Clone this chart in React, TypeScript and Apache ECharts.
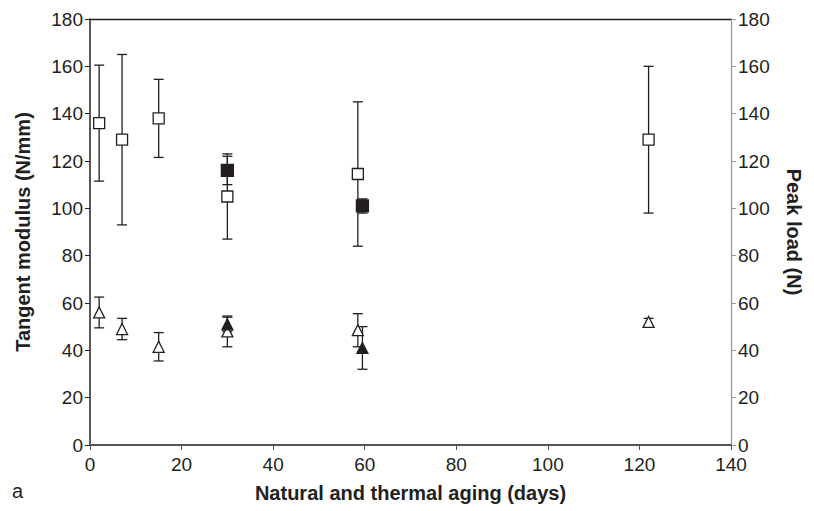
import React, { useEffect, useRef } from "react";
import * as echarts from "echarts";

// Tangent modulus (open squares) and filled squares
const openSquareDays = [2, 7, 15, 30, 58.5, 122];
const openSquareVal = [136, 129, 138, 105, 114.5, 129];
const openSquareErr = [24.5, 36, 16.5, 18, 30.5, 31];

const filledSquareDays = [30, 59.5];
const filledSquareVal = [116, 101];
const filledSquareErr = [6, 3];

// Peak load (triangles)
const openTriDays = [2, 7, 15, 30, 58.5, 122];
const openTriVal = [56, 49, 41.5, 48, 48.5, 52];
const openTriErr = [6.5, 4.5, 6, 6.5, 7, 1.5];

const filledTriDays = [30, 59.5];
const filledTriVal = [51, 41];
const filledTriErr = [3, 9];

const FONT = "'Liberation Sans', Arial, Helvetica, sans-serif";
const INK = "#231f20";

function errData(days: number[], vals: number[], errs: number[]) {
  return days.map((d, i) => [d, vals[i] - errs[i], vals[i] + errs[i]]);
}
function ptData(days: number[], vals: number[]) {
  return days.map((d, i) => [d, vals[i]]);
}

function errorSeries(data: number[][], yAxisIndex: number) {
  return {
    type: "custom",
    yAxisIndex,
    z: 2,
    data,
    renderItem: (params: any, api: any) => {
      const x = api.value(0);
      const lo = api.coord([x, api.value(1)]);
      const hi = api.coord([x, api.value(2)]);
      const cw = 5;
      const style = { stroke: INK, lineWidth: 1.3 };
      return {
        type: "group",
        children: [
          { type: "line", shape: { x1: lo[0], y1: lo[1], x2: hi[0], y2: hi[1] }, style },
          { type: "line", shape: { x1: hi[0] - cw, y1: hi[1], x2: hi[0] + cw, y2: hi[1] }, style },
          { type: "line", shape: { x1: lo[0] - cw, y1: lo[1], x2: lo[0] + cw, y2: lo[1] }, style },
        ],
      };
    },
  };
}

function scatterSeries(data: number[][], symbol: string, size: number, filled: boolean, yAxisIndex: number) {
  return {
    type: "scatter",
    yAxisIndex,
    z: 5,
    data,
    symbol,
    symbolSize: size,
    itemStyle: {
      color: filled ? INK : "#ffffff",
      borderColor: INK,
      borderWidth: 1.3,
      opacity: 1,
    },
  };
}

export default function App() {
  const ref = useRef<HTMLDivElement>(null);
  useEffect(() => {
    document.body.style.margin = "0";
    const chart = echarts.init(ref.current!, null, { renderer: "svg" });
    const yCommon = {
      type: "value",
      min: 0,
      max: 180,
      interval: 20,
      nameLocation: "middle",
      splitLine: { show: false },
      axisTick: { show: true, inside: false, length: 5 },
      axisLabel: { fontSize: 19, lineHeight: 15, color: INK, fontFamily: FONT, margin: 7 },
      nameTextStyle: { fontSize: 20, fontWeight: "bold", color: INK, fontFamily: FONT },
    };
    chart.setOption({
      animation: false,
      backgroundColor: "#ffffff",
      grid: { left: 90, right: 83, top: 19, bottom: 66, containLabel: false },
      xAxis: [
        {
          type: "value",
          min: 0,
          max: 140,
          interval: 20,
          position: "bottom",
          name: "Natural and thermal aging (days)",
          nameLocation: "middle",
          nameGap: 38,
          nameTextStyle: { fontSize: 20, fontWeight: "bold", color: INK, fontFamily: FONT },
          splitLine: { show: false },
          axisLine: { onZero: false, lineStyle: { color: "#555", width: 2 } },
          axisTick: { show: true, length: 5, lineStyle: { color: "#555" } },
          axisLabel: { fontSize: 19, lineHeight: 15, color: INK, fontFamily: FONT, margin: 12 },
        },
        {
          type: "value",
          min: 0,
          max: 140,
          position: "top",
          splitLine: { show: false },
          axisLine: { onZero: false, lineStyle: { color: INK, width: 1.3 } },
          axisTick: { show: false },
          axisLabel: { show: false },
        },
      ],
      yAxis: [
        {
          ...yCommon,
          position: "left",
          name: "Tangent modulus (N/mm)",
          nameGap: 57,
          axisLine: { show: true, onZero: false, lineStyle: { color: INK, width: 1.5 } },
          axisTick: { ...yCommon.axisTick, lineStyle: { color: INK } },
        },
        {
          ...yCommon,
          position: "right",
          name: "Peak load (N)",
          nameGap: 53,
          nameRotate: -90,
          axisLine: { show: true, onZero: false, lineStyle: { color: "#9a9a9a", width: 1.3 } },
          axisTick: { ...yCommon.axisTick, lineStyle: { color: "#9a9a9a" } },
        },
      ],
      graphic: [
        {
          type: "text",
          left: 12,
          top: 481,
          style: { text: "a", fontSize: 20, fill: INK, fontFamily: FONT },
        },
      ],
      series: [
        errorSeries(errData(openSquareDays, openSquareVal, openSquareErr), 0),
        errorSeries(errData(filledSquareDays, filledSquareVal, filledSquareErr), 0),
        errorSeries(errData(openTriDays, openTriVal, openTriErr), 1),
        errorSeries(errData(filledTriDays, filledTriVal, filledTriErr), 1),
        scatterSeries(ptData(openSquareDays, openSquareVal), "rect", 11, false, 0),
        scatterSeries(ptData(filledSquareDays, filledSquareVal), "rect", 12, true, 0),
        scatterSeries(ptData(openTriDays, openTriVal), "triangle", 11, false, 1),
        scatterSeries(ptData(filledTriDays, filledTriVal), "triangle", 11, true, 1),
      ],
    });
    return () => chart.dispose();
  }, []);
  return <div ref={ref} style={{ width: 814, height: 511 }} />;
}
